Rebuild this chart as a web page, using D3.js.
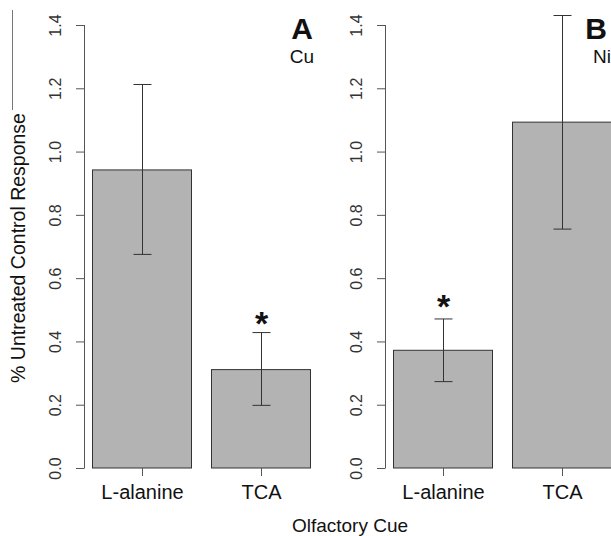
<!DOCTYPE html>
<html>
<head>
<meta charset="utf-8">
<script src="https://cdn.jsdelivr.net/npm/d3@7"></script>
<style>
  html, body { margin: 0; padding: 0; background: #fff; }
  svg { display: block; }
  text { font-family: Arial, "Liberation Sans", Helvetica, sans-serif; }
</style>
</head>
<body>
<svg id="chart" width="611" height="536"></svg>
<script>
// ---- data ----
const categories = ["L-alanine", "TCA"];
const panelLetters = ["A", "B"];
const metals = ["Cu", "Ni"];
const cuMeans = [0.942, 0.311];
const cuUpper = [1.212, 0.428];
const cuLower = [0.675, 0.198];
const cuStarAt = [null, 0.485];
const niMeans = [0.372, 1.093];
const niUpper = [0.471, 1.430];
const niLower = [0.273, 0.755];
const niStarAt = [0.538, null];
const yTicks = [0.0, 0.2, 0.4, 0.6, 0.8, 1.0, 1.2, 1.4];
const yTickLabels = ["0.0", "0.2", "0.4", "0.6", "0.8", "1.0", "1.2", "1.4"];
const yLabel = "% Untreated Control Response";
const xLabel = "Olfactory Cue";

const panelsData = [
  { letter: panelLetters[0], metal: metals[0], means: cuMeans, upper: cuUpper, lower: cuLower, star: cuStarAt },
  { letter: panelLetters[1], metal: metals[1], means: niMeans, upper: niUpper, lower: niLower, star: niStarAt }
];

// ---- layout ----
const svg = d3.select("#chart");
const axisColor = "#555";
const barFill = "#b3b3b3";
const barStroke = "#333";
const panelOffset = 301;
const axisX = 84;
// right edge of panel letter / metal label (absolute pixels) per panel
const letterEnd = [313, 607];
const metalEnd = [314, 611];

const y = d3.scaleLinear().domain([0, 1.4]).range([468, 25]);
const x = d3.scaleBand().domain(categories).range([92, 310]).paddingInner(20 / 119).paddingOuter(0);

// border artifact at far left
svg.append("line").attr("x1", 12.5).attr("x2", 12.5).attr("y1", 10).attr("y2", 110)
  .attr("stroke", "#777").attr("stroke-width", 1);

panelsData.forEach((p, pi) => {
  const g = svg.append("g").attr("transform", `translate(${pi * panelOffset},0)`);

  // y axis
  const yAxis = d3.axisLeft(y).tickValues(yTicks).tickSize(8)
    .tickFormat((d, i) => yTickLabels[i]);
  const ga = g.append("g").attr("transform", `translate(${axisX},0)`).call(yAxis);
  ga.select(".domain").attr("stroke", axisColor)
    .attr("d", `M0.5,${y(1.4)}V${y(0)}`);
  ga.selectAll(".tick line").attr("stroke", axisColor).attr("x1", 0.5).attr("x2", -8);
  ga.selectAll(".tick text")
    .attr("x", 0).attr("y", 0).attr("dy", null)
    .attr("text-anchor", "middle")
    .attr("transform", "translate(-23,0) rotate(-90)")
    .attr("font-size", 16).attr("fill", "#333")
    .attr("font-family", "Arial, 'Liberation Sans', sans-serif");

  // bars
  g.selectAll("rect.bar").data(p.means).join("rect")
    .attr("class", "bar")
    .attr("x", (d, i) => x(categories[i]) + 0.5)
    .attr("y", d => y(d))
    .attr("width", x.bandwidth())
    .attr("height", d => y(0) - y(d))
    .attr("fill", barFill)
    .attr("stroke", barStroke)
    .attr("stroke-width", 1);

  // error bars
  const cap = 9;
  p.means.forEach((m, i) => {
    const cx = Math.round(x(categories[i]) + x.bandwidth() / 2) + 0.5;
    const eg = g.append("g").attr("stroke", "#333").attr("stroke-width", 1);
    eg.append("line").attr("x1", cx).attr("x2", cx).attr("y1", y(p.upper[i])).attr("y2", y(p.lower[i]));
    eg.append("line").attr("x1", cx - cap).attr("x2", cx + cap).attr("y1", y(p.upper[i])).attr("y2", y(p.upper[i]));
    eg.append("line").attr("x1", cx - cap).attr("x2", cx + cap).attr("y1", y(p.lower[i])).attr("y2", y(p.lower[i]));
    // x tick
    g.append("line").attr("x1", cx).attr("x2", cx).attr("y1", y(0)).attr("y2", y(0) + 8)
      .attr("stroke", axisColor);
    // category label
    g.append("text").attr("x", cx).attr("y", 498.5).attr("text-anchor", "middle")
      .attr("font-size", 20).attr("fill", "#111").text(categories[i]);
    // significance star
    if (p.star[i] !== null) {
      g.append("text").attr("x", cx).attr("y", y(p.star[i]) + 20)
        .attr("text-anchor", "middle").attr("font-size", 34).attr("font-weight", "bold")
        .attr("fill", "#111").text("*");
    }
  });

  // panel letter & metal
  g.append("text").attr("x", letterEnd[pi] - pi * panelOffset).attr("y", 38.5).attr("text-anchor", "end")
    .attr("font-size", 30).attr("font-weight", "bold").attr("fill", "#111").text(p.letter);
  g.append("text").attr("x", metalEnd[pi] - pi * panelOffset).attr("y", 63).attr("text-anchor", "end")
    .attr("font-size", 19).attr("fill", "#111").text(p.metal);
});

// axis titles
svg.append("text").attr("transform", "translate(25,248) rotate(-90)")
  .attr("text-anchor", "middle").attr("font-size", 19.5).attr("fill", "#111").text(yLabel);
svg.append("text").attr("x", 350).attr("y", 531.5).attr("text-anchor", "middle")
  .attr("font-size", 19).attr("fill", "#111").text(xLabel);
</script>
</body>
</html>
